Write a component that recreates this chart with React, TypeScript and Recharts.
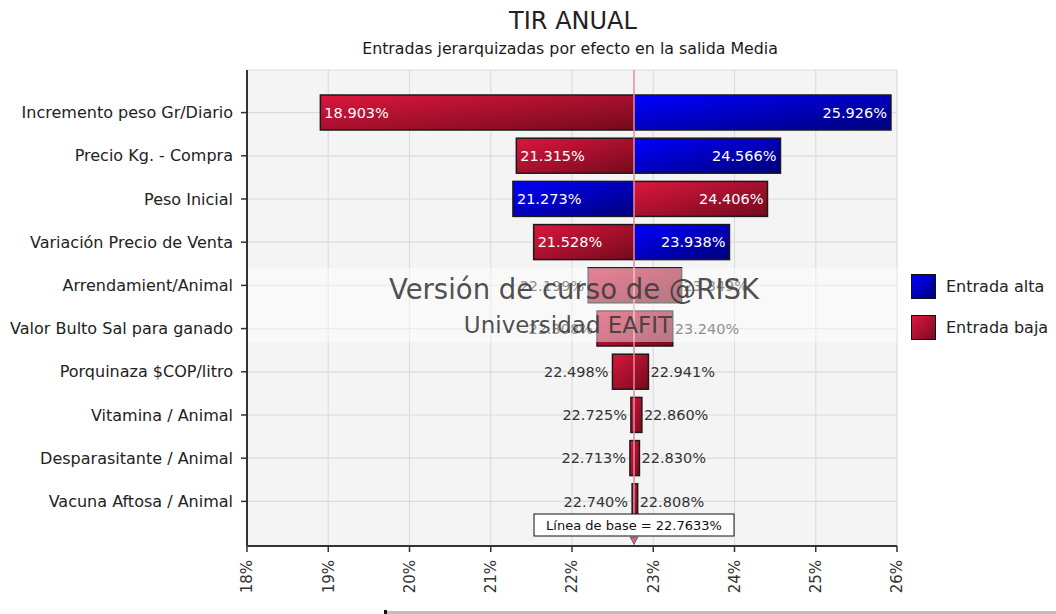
import React from 'react';
import {
  ComposedChart,
  Bar,
  XAxis,
  YAxis,
  CartesianGrid,
  ReferenceLine,
} from 'recharts';

const categories = [
  'Incremento peso Gr/Diario',
  'Precio Kg. - Compra',
  'Peso Inicial',
  'Variación Precio de Venta',
  'Arrendamient/Animal',
  'Valor Bulto Sal para ganado',
  'Porquinaza $COP/litro',
  'Vitamina / Animal',
  'Desparasitante / Animal',
  'Vacuna Aftosa / Animal',
];
const lowValues = [18.903, 21.315, 21.273, 21.528, 22.199, 22.308, 22.498, 22.725, 22.713, 22.74];
const highValues = [25.926, 24.566, 24.406, 23.938, 23.349, 23.24, 22.941, 22.86, 22.83, 22.808];
// which input level produced the low / high output value
const lowInput = ['baja', 'baja', 'alta', 'baja', 'baja', 'baja', 'baja', 'baja', 'baja', 'baja'];
const highInput = ['alta', 'alta', 'baja', 'alta', 'baja', 'baja', 'baja', 'baja', 'baja', 'baja'];
const baseline = 22.7633;
const xTicks = [18, 19, 20, 21, 22, 23, 24, 25, 26];
const legendItems = [
  { key: 'alta', label: 'Entrada alta' },
  { key: 'baja', label: 'Entrada baja' },
];
const title = 'TIR ANUAL';
const subtitle = 'Entradas jerarquizadas por efecto en la salida Media';
const baselineText = 'Línea de base = 22.7633%';
const watermark1 = 'Versión de curso de @RISK';
const watermark2 = 'Universidad EAFIT';

const data = categories.map((name, i) => ({
  name,
  range: [lowValues[i], highValues[i]],
  low: lowValues[i],
  high: highValues[i],
  lowInput: lowInput[i],
  highInput: highInput[i],
}));

const FONT = '"DejaVu Sans", Verdana, sans-serif';
const fillFor = (k: string) => (k === 'alta' ? 'url(#gradAlta)' : 'url(#gradBaja)');
const fmt = (v: number) => v.toFixed(3) + '%';

const TornadoBar = (props: any) => {
  const { x, y, width, height, payload } = props;
  if (!payload || width == null) return null;
  const { low, high } = payload;
  const bx = x + (width * (baseline - low)) / (high - low);
  const leftW = bx - x;
  const rightW = x + width - bx;
  const same = payload.lowInput === payload.highInput;
  const cy = y + height / 2;
  const leftInside = !same && leftW >= 75;
  const rightInside = !same && rightW >= 75;
  return (
    <g>
      {same ? (
        <rect x={x} y={y} width={width} height={height} fill={fillFor(payload.lowInput)} />
      ) : (
        <g>
          <rect x={x} y={y} width={leftW} height={height} fill={fillFor(payload.lowInput)} />
          <rect x={bx} y={y} width={rightW} height={height} fill={fillFor(payload.highInput)} />
        </g>
      )}
      <rect x={x} y={y} width={width} height={height} fill="none" stroke="#1a1a1a" strokeWidth={1.5} />
      <text
        x={leftInside ? x + 4 : x - 4}
        y={cy}
        dy="0.36em"
        textAnchor={leftInside ? 'start' : 'end'}
        fill={leftInside ? '#ffffff' : '#333333'}
        fontSize={14.5}
        fontFamily={FONT}
      >
        {fmt(low)}
      </text>
      <text
        x={rightInside ? x + width - 4 : x + width + 2}
        y={cy}
        dy="0.36em"
        textAnchor={rightInside ? 'end' : 'start'}
        fill={rightInside ? '#ffffff' : '#333333'}
        fontSize={14.5}
        fontFamily={FONT}
      >
        {fmt(high)}
      </text>
    </g>
  );
};

const XTick = (props: any) => {
  const { x, y, payload } = props;
  return (
    <g transform={`translate(${x},${y})`}>
      <text
        transform="rotate(-90)"
        x={0}
        y={0}
        dy="0.36em"
        textAnchor="end"
        fill="#333"
        fontSize={15}
        fontFamily={FONT}
      >
        {payload.value}%
      </text>
    </g>
  );
};

const BaselineLabel = (props: any) => {
  const vb = props.viewBox || {};
  const cx = vb.x;
  const bottom = vb.y + vb.height;
  if (cx == null || isNaN(bottom)) return null;
  return (
    <g>
      <rect x={cx - 100} y={bottom - 32} width={200} height={22} fill="#fff" stroke="#111" strokeWidth={1} />
      <text x={cx} y={bottom - 21} dy="0.36em" textAnchor="middle" fontSize={13} fontFamily={FONT} fill="#111">
        {baselineText}
      </text>
      <polygon
        points={`${cx - 4},${bottom - 9} ${cx + 4},${bottom - 9} ${cx},${bottom - 2}`}
        fill="#e0607a"
        stroke="#555"
        strokeWidth={0.8}
      />
    </g>
  );
};

const LegendBox = () => (
  <div
    style={{
      position: 'absolute',
      left: 911,
      top: 266,
      fontFamily: FONT,
      fontSize: 16,
      color: '#222',
    }}
  >
    {legendItems.map((it) => (
      <div key={it.key} style={{ display: 'flex', alignItems: 'center', height: 41 }}>
        <div
          style={{
            width: 23,
            height: 23,
            border: '1px solid #111',
            background:
              it.key === 'alta'
                ? 'linear-gradient(135deg, #0000ff, #000080)'
                : 'linear-gradient(135deg, #dc163e, #7a0c20)',
            marginRight: 10,
          }}
        />
        <span>{it.label}</span>
      </div>
    ))}
  </div>
);

export default function App() {
  return (
    <div style={{ position: 'absolute', left: 0, top: 0, width: 1056, height: 614, background: '#fff' }}>
      <svg width={0} height={0} style={{ position: 'absolute' }}>
        <defs>
          <linearGradient id="gradBaja" x1="0" y1="0" x2="1" y2="1">
            <stop offset="0%" stopColor="#dc163e" />
            <stop offset="100%" stopColor="#740a1c" />
          </linearGradient>
          <linearGradient id="gradAlta" x1="0" y1="0" x2="1" y2="1">
            <stop offset="0%" stopColor="#0000ff" />
            <stop offset="100%" stopColor="#00007a" />
          </linearGradient>
        </defs>
      </svg>
      <ComposedChart
        width={1056}
        height={614}
        data={data}
        layout="vertical"
        margin={{ top: 70, right: 159, bottom: 18, left: 7 }}
      >
        <CartesianGrid stroke="#dcdcdc" strokeWidth={1.2} fill="#f4f4f4" />
        <XAxis
          type="number"
          domain={[18, 26]}
          ticks={xTicks}
          interval={0}
          height={50}
          tick={<XTick />}
          tickSize={6}
          tickMargin={8}
          axisLine={{ stroke: '#333', strokeWidth: 2 }}
          tickLine={{ stroke: '#333', strokeWidth: 1.5 }}
          allowDataOverflow
        />
        <YAxis
          type="category"
          dataKey="name"
          width={240}
          interval={0}
          padding={{ top: 21, bottom: 23 }}
          tickSize={6}
          tickMargin={8}
          tick={{ fill: '#222', fontSize: 16, fontFamily: FONT }}
          axisLine={{ stroke: '#333', strokeWidth: 2 }}
          tickLine={{ stroke: '#333', strokeWidth: 1.5 }}
        />
        <Bar dataKey="range" barSize={35} shape={<TornadoBar />} isAnimationActive={false} />
        <ReferenceLine
          x={baseline}
          stroke="#e98a9a"
          strokeWidth={1.5}
          label={<BaselineLabel />}
          ifOverflow="extendDomain"
        />
      </ComposedChart>
      <LegendBox />
      <svg
        width={1056}
        height={614}
        style={{ position: 'absolute', left: 0, top: 0, pointerEvents: 'none' }}
      >
        <text x={573} y={29} textAnchor="middle" fontSize={24} fontFamily={FONT} fill="#222">
          {title}
        </text>
        <text x={570} y={54} textAnchor="middle" fontSize={15.8} fontFamily={FONT} fill="#1a1a1a">
          {subtitle}
        </text>
        <rect x={248} y={268} width={649} height={74} fill="#ffffff" fillOpacity={0.45} />
        <text x={574} y={299} textAnchor="middle" fontSize={27.5} fontFamily={FONT} fill="#3a3a3a" fillOpacity={0.9}>
          {watermark1}
        </text>
        <text x={568} y={333} textAnchor="middle" fontSize={23} fontFamily={FONT} fill="#3a3a3a" fillOpacity={0.9}>
          {watermark2}
        </text>
        <rect x={386} y={611} width={670} height={3} fill="#bdbdbd" />
        <rect x={384} y={610} width={3} height={4} fill="#111" />
      </svg>
    </div>
  );
}
